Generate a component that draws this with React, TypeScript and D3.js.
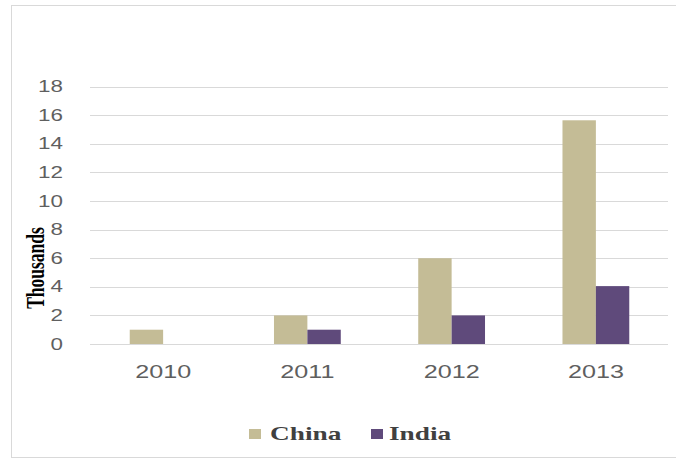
// Clustered column chart: China vs India, in thousands
import React, { useEffect, useRef } from 'react';
import * as d3 from 'd3';

const years = ['2010', '2011', '2012', '2013'];
const seriesNames = ['China', 'India'];
const china = [1.0, 2.0, 6.0, 15.65];
const india = [0, 1.0, 2.0, 4.05];
const yTicks = [0, 2, 4, 6, 8, 10, 12, 14, 16, 18];

const colors: Record<string, string> = { China: '#c4bc96', India: '#5f4a7b' };

const App = () => {
  const svgRef = useRef<SVGSVGElement>(null);

  useEffect(() => {
    if (!svgRef.current) return;
    const width = 676;
    const height = 461;
    const stretch = 1.4; // the glyphs in the source are wide

    const svg = d3.select(svgRef.current);
    svg.selectAll('*').remove();

    // outer frame
    svg.append('rect')
      .attr('x', 11.5).attr('y', 5.5)
      .attr('width', 680).attr('height', 452)
      .attr('fill', '#fff')
      .attr('stroke', '#d9d9d9');

    const x0 = d3.scaleBand().domain(years).range([91, 668]);
    const x1 = d3.scaleBand().domain(seriesNames).range([0, x0.bandwidth()]).paddingOuter(1.16);
    const y = d3.scaleLinear().domain([0, 18]).range([344, 86.7]);

    // gridlines
    svg.append('g')
      .selectAll('line')
      .data(yTicks)
      .enter()
      .append('line')
      .attr('x1', 90).attr('x2', 668)
      .attr('y1', d => Math.round(y(d)) + 0.5)
      .attr('y2', d => Math.round(y(d)) + 0.5)
      .attr('stroke', '#d9d9d9');

    // y tick labels
    svg.append('g')
      .selectAll('text')
      .data(yTicks)
      .enter()
      .append('text')
      .attr('transform', d => `translate(63,${y(d)}) scale(${stretch},1)`)
      .attr('text-anchor', 'end')
      .attr('dy', '0.35em')
      .attr('font-family', 'Liberation Sans, Arial, sans-serif')
      .attr('font-size', 16)
      .attr('fill', '#5f5f5f')
      .text(d => d);

    // bars
    const rows = years.map((yr, i) => ({ yr, values: [china[i], india[i]] }));
    const groups = svg.append('g')
      .selectAll('g')
      .data(rows)
      .enter()
      .append('g')
      .attr('transform', d => `translate(${x0(d.yr)},0)`);

    groups.selectAll('rect')
      .data(d => seriesNames.map((s, j) => ({ s, v: d.values[j] })))
      .enter()
      .append('rect')
      .attr('x', d => x1(d.s) || 0)
      .attr('width', x1.bandwidth())
      .attr('y', d => y(d.v))
      .attr('height', d => y(0) - y(d.v))
      .attr('fill', d => colors[d.s]);

    // x labels
    svg.append('g')
      .selectAll('text')
      .data(years)
      .enter()
      .append('text')
      .attr('transform', d => `translate(${(x0(d) || 0) + x0.bandwidth() / 2},371.5) scale(${stretch},1)`)
      .attr('text-anchor', 'middle')
      .attr('dy', '0.35em')
      .attr('font-family', 'Liberation Sans, Arial, sans-serif')
      .attr('font-size', 18)
      .attr('fill', '#5f5f5f')
      .text(d => d);

    // axis title
    svg.append('text')
      .attr('transform', `translate(35,268) scale(${stretch},1) rotate(-90)`)
      .attr('text-anchor', 'middle')
      .attr('dy', '0.35em')
      .attr('font-family', 'Liberation Serif, Times New Roman, serif')
      .attr('font-weight', 'bold')
      .attr('font-size', 17.5)
      .attr('fill', '#000')
      .text('Thousands');

    // legend
    const legendItems = [
      { name: 'China', sx: 249, tx: 270 },
      { name: 'India', sx: 371, tx: 389 },
    ];
    const lg = svg.append('g');
    lg.selectAll('rect')
      .data(legendItems)
      .enter()
      .append('rect')
      .attr('x', d => d.sx).attr('y', 429)
      .attr('width', 12).attr('height', 10)
      .attr('fill', d => colors[d.name]);
    lg.selectAll('text')
      .data(legendItems)
      .enter()
      .append('text')
      .attr('transform', d => `translate(${d.tx},433.5) scale(${stretch},1)`)
      .attr('dy', '0.35em')
      .attr('font-family', 'Liberation Serif, Times New Roman, serif')
      .attr('font-weight', 'bold')
      .attr('font-size', 19.5)
      .attr('fill', '#404040')
      .text(d => d.name);

    svg.attr('width', width).attr('height', height);
  }, []);

  return (
    <svg
      ref={svgRef}
      width={676}
      height={461}
      style={{ position: 'absolute', left: 0, top: 0, background: '#fff' }}
    />
  );
};

export default App;
